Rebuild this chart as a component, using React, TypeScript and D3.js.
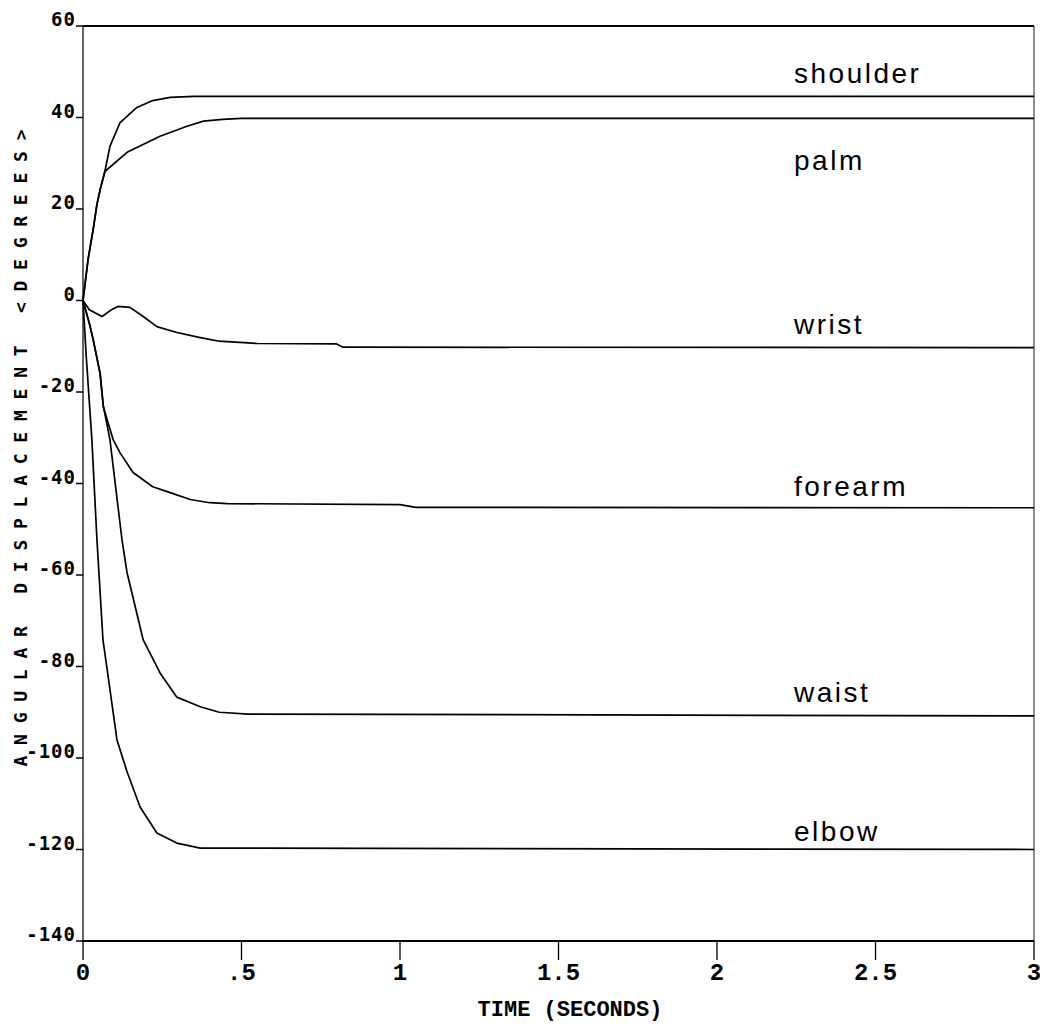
import React from "react";
import * as d3 from "d3";

// ---- data (time in seconds, angle in degrees) ----
const shoulder: [number, number][] = [
  [0, 0], [0.016, 9], [0.032, 15.5], [0.044, 21], [0.055, 24.5], [0.069, 28.2],
  [0.085, 33.7], [0.117, 38.9], [0.17, 42.2], [0.22, 43.7], [0.275, 44.4], [0.35, 44.6], [3, 44.6],
];
const palm: [number, number][] = [
  [0, 0], [0.016, 9], [0.032, 15.5], [0.044, 21], [0.055, 24.5], [0.069, 28.2],
  [0.139, 32.4], [0.243, 35.9], [0.328, 38.1], [0.38, 39.2], [0.44, 39.6], [0.5, 39.8], [3, 39.8],
];
const wrist: [number, number][] = [
  [0, 0], [0.02, -2], [0.06, -3.5], [0.09, -2], [0.11, -1.3], [0.148, -1.5], [0.19, -3.5],
  [0.233, -5.7], [0.296, -7], [0.37, -8.1], [0.43, -8.9], [0.55, -9.4], [0.8, -9.5], [0.82, -10.2], [3, -10.3],
];
const forearm: [number, number][] = [
  [0, 0], [0.02, -5], [0.032, -8.5], [0.054, -16], [0.064, -23.2], [0.095, -30.4], [0.117, -33.3],
  [0.158, -37.6], [0.22, -40.7], [0.275, -42], [0.338, -43.5], [0.4, -44.2], [0.455, -44.4],
  [1.0, -44.6], [1.05, -45.2], [3, -45.3],
];
const waist: [number, number][] = [
  [0, 0], [0.02, -5], [0.032, -8.5], [0.054, -16], [0.064, -23], [0.085, -30.4], [0.123, -52.3],
  [0.139, -59.5], [0.19, -74.2], [0.243, -81.4], [0.296, -86.7], [0.37, -88.8], [0.43, -90],
  [0.52, -90.4], [3, -90.8],
];
const elbow: [number, number][] = [
  [0, 0], [0.01, -12], [0.028, -30.4], [0.044, -52.3], [0.063, -74.2], [0.085, -85], [0.107, -96],
  [0.139, -103], [0.18, -110.7], [0.233, -116.4], [0.296, -118.6], [0.37, -119.7], [3, -120],
];

const seriesNames = ["shoulder", "palm", "wrist", "forearm", "waist", "elbow"];
const seriesData = [shoulder, palm, wrist, forearm, waist, elbow];

const yTicks = [60, 40, 20, 0, -20, -40, -60, -80, -100, -120, -140];
const xTicks = [0, 0.5, 1, 1.5, 2, 2.5, 3];
const xTickLabels = ["0", ".5", "1", "1.5", "2", "2.5", "3"];

const xTitle = "TIME (SECONDS)";
const yTitle = "ANGULAR DISPLACEMENT <DEGREES>";

// label placement (pixels relative to final value)
const labelT = 2.243;
const labelDy: Record<string, number> = {
  shoulder: -13, palm: 52, wrist: -14, forearm: -12, waist: -14, elbow: -9,
};

export default function App() {
  const W = 1040, H = 1030;
  const left = 83, right = 1034, top = 26, bottom = 941;
  const x = d3.scaleLinear().domain([0, 3]).range([left, right]);
  const y = d3.scaleLinear().domain([-140, 60]).range([bottom, top]);
  const line = d3.line<[number, number]>().x(d => x(d[0])).y(d => y(d[1]));

  const monoY = "'DejaVu Sans Mono', monospace";
  const monoX = "'Liberation Mono', 'DejaVu Sans Mono', monospace";

  return (
    <svg width={W} height={H} style={{ position: "absolute", left: 0, top: 0, background: "#fff" }}>
      <rect x={0} y={0} width={W} height={H} fill="#fff" />
      {/* frame */}
      <line x1={left} x2={right} y1={top} y2={top} stroke="#000" strokeWidth={2} />
      <line x1={right} x2={right} y1={top} y2={bottom} stroke="#222" strokeWidth={1} />
      <line x1={left} x2={left} y1={top} y2={bottom + 1} stroke="#111" strokeWidth={1.3} />
      <line x1={left} x2={right} y1={bottom} y2={bottom} stroke="#000" strokeWidth={2.2} />

      {/* y ticks */}
      {yTicks.map(t => (
        <g key={"y" + t}>
          <line x1={left - 7} x2={left} y1={y(t)} y2={y(t)} stroke="#000" strokeWidth={1.5} />
          <text x={left - 7} y={y(t)} textAnchor="end" fontFamily={monoY} fontWeight="bold"
            fontSize={19} letterSpacing={1} fill="#000">{t}</text>
        </g>
      ))}

      {/* x ticks */}
      {xTicks.map((t, i) => (
        <g key={"x" + t}>
          <line x1={x(t)} x2={x(t)} y1={bottom} y2={bottom + 19} stroke="#000" strokeWidth={1.3} />
          <text x={x(t)} y={980} textAnchor="middle" fontFamily={monoX} fontWeight="bold"
            fontSize={24} fill="#000">{xTickLabels[i]}</text>
        </g>
      ))}

      {/* series */}
      {seriesData.map((d, i) => (
        <path key={seriesNames[i]} d={line(d) || ""} fill="none" stroke="#000" strokeWidth={1.7}
          strokeLinejoin="round" />
      ))}

      {/* series labels */}
      {seriesData.map((d, i) => (
        <text key={"l" + i} x={x(labelT)} y={y(d[d.length - 1][1]) + labelDy[seriesNames[i]]}
          fontFamily="'Liberation Sans', Arial, sans-serif" fontSize={28} letterSpacing={2.5}
          fill="#000">{seriesNames[i]}</text>
      ))}

      {/* axis titles */}
      <text x={570} y={1016} textAnchor="middle" fontFamily={monoX} fontWeight="bold"
        fontSize={22} fill="#000">{xTitle}</text>
      <text transform={`translate(27,448) rotate(-90)`} textAnchor="middle" fontFamily={monoY}
        fontWeight="bold" fontSize={18} textLength={637} lengthAdjust="spacing" fill="#000">{yTitle}</text>
    </svg>
  );
}
